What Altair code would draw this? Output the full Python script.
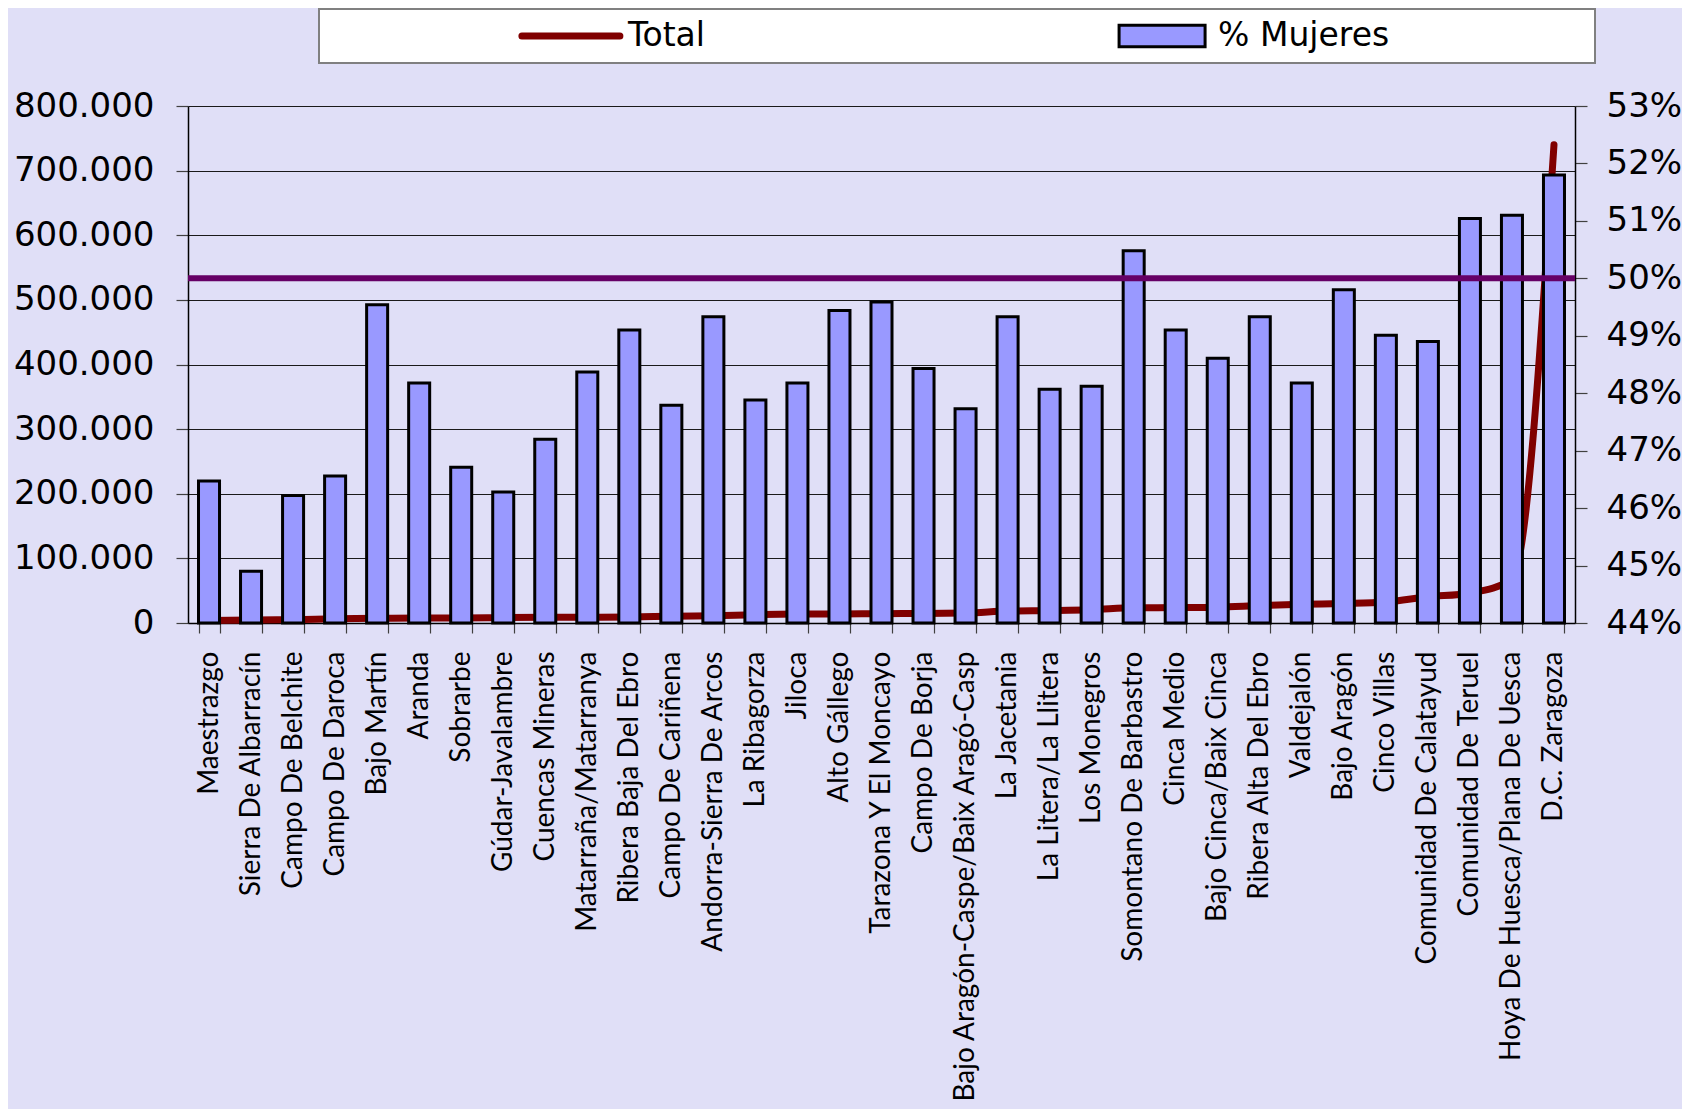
import altair as alt
import pandas as pd

comarcas = [
    "Maestrazgo", "Sierra De Albarracín", "Campo De Belchite", "Campo De Daroca",
    "Bajo Martín", "Aranda", "Sobrarbe", "Gúdar-Javalambre", "Cuencas Mineras",
    "Matarraña/Matarranya", "Ribera Baja Del Ebro", "Campo De Cariñena",
    "Andorra-Sierra De Arcos", "La Ribagorza", "Jiloca", "Alto Gállego",
    "Tarazona Y El  Moncayo", "Campo De Borja", "Bajo Aragón-Caspe/Baix Aragó-Casp",
    "La Jacetania", "La Litera/La Llitera", "Los Monegros", "Somontano De Barbastro",
    "Cinca Medio", "Bajo Cinca/Baix Cinca", "Ribera Alta Del Ebro", "Valdejalón",
    "Bajo Aragón", "Cinco Villas", "Comunidad De Calatayud", "Comunidad De Teruel",
    "Hoya De Huesca/Plana De Uesca", "D.C. Zaragoza",
]
total = [
    3700, 4600, 5200, 6400, 7200, 7600, 7700, 8300, 8800, 9000, 9300, 10500,
    11300, 12900, 13800, 14000, 14500, 14800, 15300, 18400, 19200, 20500, 23500,
    23800, 24500, 27000, 29000, 30200, 32500, 40500, 46500, 67000, 740000,
]
pct_mujeres = [
    0.4647, 0.4490, 0.4622, 0.4656, 0.4954, 0.4818, 0.4671, 0.4628, 0.4720,
    0.4837, 0.4910, 0.4779, 0.4933, 0.4788, 0.4818, 0.4944, 0.4959, 0.4843,
    0.4773, 0.4933, 0.4807, 0.4812, 0.5048, 0.4910, 0.4861, 0.4933, 0.4818,
    0.4980, 0.4901, 0.4890, 0.5104, 0.5110, 0.5180,
]
ref_level = [0.50]
left_ticks = [0, 100000, 200000, 300000, 400000, 500000, 600000, 700000, 800000]
right_ticks = [0.44, 0.45, 0.46, 0.47, 0.48, 0.49, 0.50, 0.51, 0.52, 0.53]
legend_items = ["Total", "% Mujeres"]

df = pd.DataFrame({"Comarca": comarcas, "Total": total, "Mujeres": pct_mujeres})
rule_df = pd.DataFrame({"ref": ref_level})
legend_df = pd.DataFrame({"item": legend_items})

BG = "#E0DFF7"
TICK = "#404040"

x_enc = alt.X(
    "Comarca:N", sort=comarcas, title=None,
    scale=alt.Scale(paddingInner=0.5, paddingOuter=0.25),
    axis=alt.Axis(labelAngle=-90, labelFont="Lato", labelFontSize=28, labelColor="black",
                  tickBand="extent", tickSize=10, tickColor=TICK, tickWidth=1.2,
                  domainColor="black", domainWidth=1.5, labelPadding=18,
                  labelOverlap=False, grid=False, labelLimit=700),
)

pct_scale = alt.Scale(domain=[0.44, 0.53], nice=False, zero=False)
pct_axis = alt.Axis(orient="right", values=right_ticks, format=".0%", title=None,
                    labelFont="DejaVu Sans", labelFontSize=34, labelColor="black",
                    tickSize=12, tickColor=TICK, tickWidth=1.2, domainColor="black",
                    domainWidth=1.5, labelPadding=19, grid=False)

line = alt.Chart(df).mark_line(color="#800000", strokeWidth=7, interpolate="monotone",
                               strokeCap="round").encode(
    x=x_enc,
    y=alt.Y("Total:Q", scale=alt.Scale(domain=[0, 800000], nice=False),
            axis=alt.Axis(orient="left", values=left_ticks, title=None,
                          labelExpr="replace(format(datum.value, ','), ',', '.')",
                          labelFont="DejaVu Sans", labelFontSize=34, labelColor="black",
                          tickSize=12, tickColor=TICK, tickWidth=1.2, domainColor="black",
                          domainWidth=1.5, labelPadding=22, grid=True,
                          gridColor="#1a1a1a", gridWidth=1.2)),
)

bars = alt.Chart(df).mark_bar(fill="#9999FF", stroke="black", strokeWidth=3).encode(
    x=x_enc,
    y=alt.Y("Mujeres:Q", scale=pct_scale, axis=pct_axis),
    y2=alt.datum(0.44),
)

rule = alt.Chart(rule_df).mark_rule(color="#660066", strokeWidth=6).encode(
    y=alt.Y("ref:Q", scale=pct_scale, axis=pct_axis),
)

main = alt.layer(line, alt.layer(bars, rule)).resolve_scale(y="independent").properties(
    width=1387, height=517)

# legend box
lx = alt.X("item:N", sort=legend_items, axis=None,
           scale=alt.Scale(type="point", padding=0.581, align=0.4504))
leg_line = alt.Chart(legend_df).transform_filter(alt.datum.item == "Total").mark_point(
    shape="M-1,0H1", size=9604, stroke="#800000", strokeWidth=7, strokeCap="round",
    filled=False, opacity=1, xOffset=-57).encode(x=lx)
leg_rect = alt.Chart(legend_df).transform_filter(alt.datum.item == "% Mujeres").mark_point(
    shape="M-1,-0.25H1V0.25H-1Z", size=7396, fill="#9999FF", stroke="black", strokeWidth=3,
    filled=True, opacity=1, xOffset=-56).encode(x=lx)
leg_text = alt.Chart(legend_df).mark_text(align="left", baseline="middle", font="DejaVu Sans",
                                          fontSize=33, color="black").encode(x=lx, text="item:N")
legend_box = alt.layer(leg_line, leg_rect, leg_text).properties(
    width=1276, height=54,
    view=alt.ViewBackground(fill="white", stroke="#808080", strokeWidth=2))
spacer = alt.Chart(legend_df).mark_point(opacity=0).properties(width=131, height=54)
top = alt.hconcat(spacer, legend_box, spacing=0, bounds="flush")

chart = alt.concat(top, main, columns=1, bounds="flush", spacing=97).properties(
    background=BG, padding={"left": 5, "top": 0, "right": 0, "bottom": 6}
).configure_view(strokeWidth=0)

chart.save("out.html", embed_options={"renderer": "svg", "actions": False})
